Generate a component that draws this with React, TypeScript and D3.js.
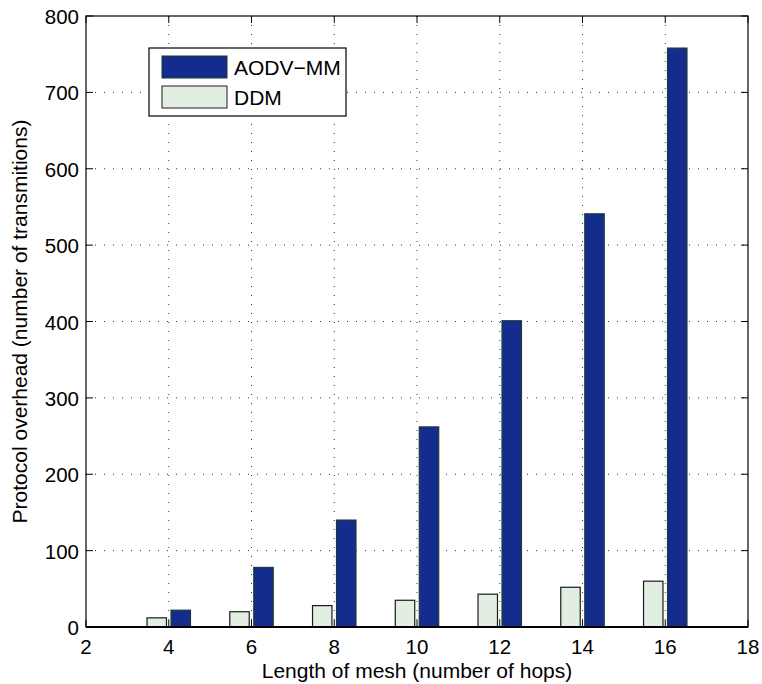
import React from "react";
import * as d3 from "d3";

const hops = [4, 6, 8, 10, 12, 14, 16];
const aodvMM = [22, 78, 140, 262, 401, 541, 758];
const ddm = [12, 20, 28, 35, 43, 52, 60];
const xTicks = [2, 4, 6, 8, 10, 12, 14, 16, 18];
const yTicks = [0, 100, 200, 300, 400, 500, 600, 700, 800];
const seriesNames = ["AODV\u2212MM", "DDM"];

const W = 762;
const H = 684;
const M = { left: 86, right: 748, top: 16, bottom: 627 };
const FONT = "'Liberation Sans', Arial, Helvetica, sans-serif";
const AODV_FILL = "#142c8c";
const AODV_STROKE = "#1d3b35";
const DDM_FILL = "#e3eee3";
const DDM_STROKE = "#1a1a1a";

export default function App() {
  const x = d3.scaleLinear().domain([2, 18]).range([M.left, M.right]);
  const y = d3.scaleLinear().domain([0, 800]).range([M.bottom, M.top]);
  const off = 0.29;
  const bw = 0.47;
  const barW = x(2 + bw) - x(2);
  const tick = 7;

  return (
    <svg width={W} height={H} style={{ position: "absolute", left: 0, top: 0, background: "#fff" }} fontFamily={FONT}>
      <rect x={0} y={0} width={W} height={H} fill="#fff" />
      {/* grid */}
      {xTicks.slice(1, -1).map((t) => (
        <line key={"gx" + t} x1={x(t)} x2={x(t)} y1={M.top} y2={M.bottom} stroke="#333" strokeWidth={1} strokeDasharray="1,8" />
      ))}
      {yTicks.slice(1, -1).map((t) => (
        <line key={"gy" + t} x1={M.left} x2={M.right} y1={y(t)} y2={y(t)} stroke="#333" strokeWidth={1} strokeDasharray="1,8" />
      ))}
      {/* ticks */}
      {xTicks.map((t) => (
        <g key={"tx" + t}>
          <line x1={x(t)} x2={x(t)} y1={M.bottom} y2={M.bottom - tick} stroke="#000" />
          <line x1={x(t)} x2={x(t)} y1={M.top} y2={M.top + tick} stroke="#000" />
        </g>
      ))}
      {yTicks.map((t) => (
        <g key={"ty" + t}>
          <line x1={M.left} x2={M.left + tick} y1={y(t)} y2={y(t)} stroke="#000" />
          <line x1={M.right} x2={M.right - tick} y1={y(t)} y2={y(t)} stroke="#000" />
        </g>
      ))}
      {/* bars */}
      {hops.map((h, i) => (
        <g key={"b" + h}>
          <rect x={x(h - off) - barW / 2} y={y(ddm[i])} width={barW} height={y(0) - y(ddm[i])} fill={DDM_FILL} stroke={DDM_STROKE} strokeWidth={1.2} />
          <rect x={x(h + off) - barW / 2} y={y(aodvMM[i])} width={barW} height={y(0) - y(aodvMM[i])} fill={AODV_FILL} stroke={AODV_STROKE} strokeWidth={1.2} />
        </g>
      ))}
      {/* frame */}
      <rect x={M.left} y={M.top} width={M.right - M.left} height={M.bottom - M.top} fill="none" stroke="#000" strokeWidth={1.2} />
      <line x1={M.left} x2={M.right} y1={M.bottom} y2={M.bottom} stroke="#000" strokeWidth={2} />
      {/* tick labels */}
      {xTicks.map((t) => (
        <text key={"lx" + t} x={x(t)} y={654} textAnchor="middle" fontSize={20.5} fill="#000">{t}</text>
      ))}
      {yTicks.map((t) => (
        <text key={"ly" + t} x={79} y={y(t) + 8} textAnchor="end" fontSize={20.5} fill="#000">{t}</text>
      ))}
      {/* axis labels */}
      <text x={(M.left + M.right) / 2} y={678} textAnchor="middle" fontSize={21} fill="#000">Length of mesh (number of hops)</text>
      <text transform={`translate(27, ${(M.top + M.bottom) / 2}) rotate(-90)`} textAnchor="middle" fontSize={21} fill="#000">Protocol overhead (number of transmitions)</text>
      {/* legend */}
      <g>
        <rect x={149} y={48} width={197} height={68} fill="#fff" stroke="#000" strokeWidth={1.2} />
        <rect x={162} y={56} width={65} height={22} fill={AODV_FILL} stroke={AODV_STROKE} strokeWidth={1} />
        <rect x={162} y={86} width={65} height={22} fill={DDM_FILL} stroke={DDM_STROKE} strokeWidth={1} />
        <text x={234} y={75} fontSize={21} fill="#000">{seriesNames[0]}</text>
        <text x={234} y={105} fontSize={21} fill="#000">{seriesNames[1]}</text>
      </g>
    </svg>
  );
}
